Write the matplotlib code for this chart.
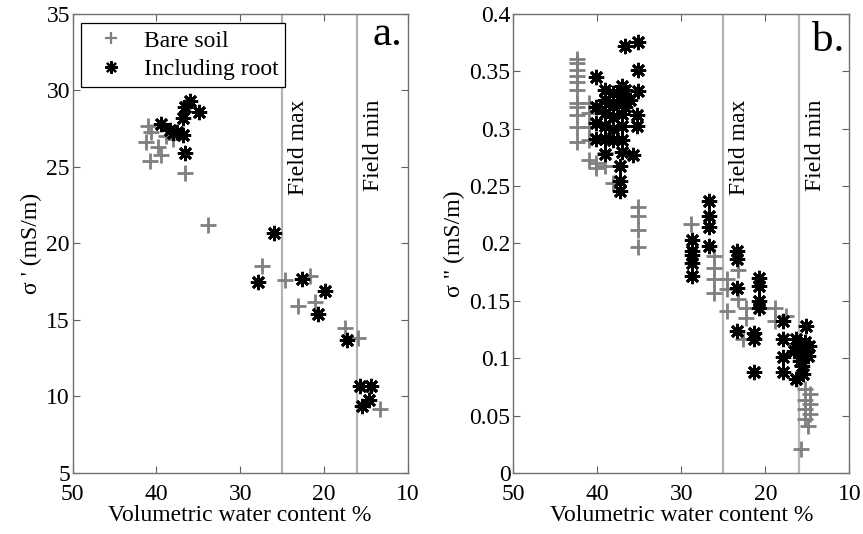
import matplotlib
matplotlib.use('Agg')
import matplotlib.pyplot as plt
import matplotlib.transforms as mtransforms

plt.rcParams['font.family'] = ['Liberation Serif', 'DejaVu Serif']

# Panel a: sigma' (mS/m)
bare_a_x = [41.0, 40.6, 41.2, 40.8, 39.8, 39.4, 38.8, 38.0, 36.6, 33.8, 27.4, 24.6,
            21.7, 23.1, 21.1, 17.5, 15.9, 14.6, 13.3]
bare_a_y = [27.7, 27.3, 26.6, 25.4, 26.3, 25.8, 27.0, 26.8, 24.6, 21.2, 18.5, 17.6,
            17.9, 15.9, 16.2, 14.5, 13.8, 10.4, 9.2]
root_a_x = [39.4, 38.4, 38.0, 37.5, 36.8, 36.6, 36.0, 34.9, 36.8, 36.6, 26.0, 27.9,
            22.6, 19.9, 20.7, 17.2, 15.7, 14.4, 15.5, 14.6]
root_a_y = [27.8, 27.4, 27.2, 27.3, 28.2, 28.9, 29.3, 28.6, 27.1, 25.9, 20.7, 17.5,
            17.7, 16.9, 15.4, 13.7, 10.7, 10.7, 9.4, 9.8]

# Panel b: sigma'' (mS/m)
bare_b_x = [42.4, 42.4, 42.4, 42.4, 42.4, 42.4, 42.4, 42.4, 42.4, 42.4, 42.4,
            41.0, 41.0, 41.0, 41.0, 41.0, 40.1, 40.1, 39.1, 39.1, 38.1,
            35.1, 35.1, 35.1, 35.1, 28.8, 26.1, 26.1, 26.1, 26.1,
            24.6, 24.6, 24.6, 23.2, 23.2, 22.3, 22.3, 22.6, 18.9, 18.9, 17.5, 15.7,
            15.3, 14.7, 15.3, 14.7, 15.3, 14.7, 15.3, 14.9]
bare_b_y = [0.361, 0.357, 0.351, 0.346, 0.341, 0.334, 0.322, 0.319, 0.312, 0.301, 0.288,
            0.322, 0.314, 0.301, 0.290, 0.273, 0.270, 0.266, 0.279, 0.267, 0.253,
            0.232, 0.224, 0.212, 0.197, 0.217, 0.189, 0.179, 0.169, 0.157,
            0.169, 0.160, 0.141, 0.177, 0.152, 0.144, 0.135, 0.117, 0.144, 0.132, 0.137, 0.021,
            0.073, 0.069, 0.064, 0.060, 0.056, 0.051, 0.047, 0.041]
root_b_x = [36.7, 35.1, 35.1, 35.1, 35.3, 35.3, 35.7,
            40.1, 40.1, 40.1, 40.1,
            39.1, 39.1, 39.1, 39.1, 39.1, 39.1,
            38.1, 38.1, 38.1, 38.1, 38.1,
            37.1, 37.1, 37.1, 37.1, 37.1, 37.1,
            37.3, 37.3, 37.3, 36.7, 36.7, 36.1,
            28.7, 28.7, 28.7, 28.7, 28.7,
            26.7, 26.7, 26.7, 26.7,
            23.4, 23.4, 23.4, 23.4,
            20.7, 20.7, 20.7, 20.7,
            21.3, 21.3, 21.3,
            17.9, 17.9, 17.9, 17.9,
            15.2, 16.3, 15.3, 14.9, 16.3, 15.5, 16.6, 15.9, 15.2, 14.8, 16.0, 15.6]
root_b_y = [0.372, 0.375, 0.351, 0.333, 0.312, 0.302, 0.277,
            0.345, 0.319, 0.305, 0.291,
            0.334, 0.325, 0.314, 0.302, 0.291, 0.278,
            0.331, 0.320, 0.310, 0.300, 0.290,
            0.337, 0.325, 0.313, 0.302, 0.290, 0.280,
            0.267, 0.254, 0.246, 0.334, 0.319, 0.325,
            0.203, 0.193, 0.190, 0.183, 0.172,
            0.237, 0.224, 0.214, 0.198,
            0.193, 0.186, 0.161, 0.124,
            0.170, 0.163, 0.150, 0.144,
            0.122, 0.117, 0.088,
            0.132, 0.117, 0.101, 0.088,
            0.128, 0.117, 0.114, 0.102, 0.082, 0.086, 0.106, 0.098, 0.105, 0.111, 0.110, 0.093]

field_max = 25
field_min = 16
xticks = [50, 40, 30, 20, 10]

gris = '#808080'
asterisco = (8, 2, 0)

fig = plt.figure(figsize=(8.63, 5.34), dpi=100)
ax_a = fig.add_axes([0.0842, 0.1142, 0.3882, 0.8600])
ax_b = fig.add_axes([0.5948, 0.1142, 0.3893, 0.8600])


def preparar(ax, ylim, yticks, ylabel, etiqueta, ybase):
    ax.set_xlim(50, 10)
    ax.set_ylim(*ylim)
    ax.set_xticks(xticks)
    ax.set_yticks(yticks)
    ax.set_yticklabels([('%g' % v) for v in yticks])
    ax.tick_params(direction='in', top=True, right=True, length=5, width=0.8,
                   color='#606060', labelsize=17)
    ax.tick_params(axis='x', pad=8)
    ax.tick_params(axis='y', pad=2)
    for sp in ax.spines.values():
        sp.set_color('#707070')
        sp.set_linewidth(1.0)
    ax.set_xlabel('Volumetric water content %', fontsize=17, labelpad=0)
    ax.set_ylabel(ylabel, fontsize=17, labelpad=3)
    for xv in (field_max, field_min):
        ax.axvline(xv, color='#b4b4b4', linewidth=1.6, zorder=1)
    trans = mtransforms.blended_transform_factory(ax.transData, ax.transAxes)
    ax.text(field_max - 0.7, 0.813, 'Field max', rotation=90, ha='left', va='top',
            fontsize=17, transform=trans)
    ax.text(field_min - 0.7, 0.813, 'Field min', rotation=90, ha='left', va='top',
            fontsize=17, transform=trans)
    ax.text(0.985, ybase, etiqueta, ha='right', va='baseline', fontsize=31,
            transform=ax.transAxes)


preparar(ax_a, (5, 35), [5, 10, 15, 20, 25, 30, 35], "σ ' (mS/m)", 'a.', 0.933)
preparar(ax_b, (0, 0.4), [0, 0.05, 0.1, 0.15, 0.2, 0.25, 0.3, 0.35, 0.4],
         'σ " (mS/m)', 'b.', 0.918)

ax_a.plot(bare_a_x, bare_a_y, linestyle='none', marker='+', markersize=11,
          markeredgewidth=2, color=gris, label='Bare soil', zorder=3)
ax_a.plot(root_a_x, root_a_y, linestyle='none', marker=asterisco, markersize=11,
          markeredgewidth=2.0, color='black', label='Including root', zorder=4)

ax_b.plot(bare_b_x, bare_b_y, linestyle='none', marker='+', markersize=11,
          markeredgewidth=2, color=gris, zorder=3)
ax_b.plot(root_b_x, root_b_y, linestyle='none', marker=asterisco, markersize=11,
          markeredgewidth=2.0, color='black', zorder=4)

leg = ax_a.legend(loc='upper left', bbox_to_anchor=(0.025, 0.98), fontsize=17,
                  frameon=True, fancybox=False, edgecolor='black', framealpha=1,
                  handlelength=1.9, handletextpad=0.45, borderpad=0.3,
                  labelspacing=0.3, borderaxespad=0)
leg.get_frame().set_linewidth(0.9)
for h in leg.legend_handles:
    h.set_markersize(9)
    h.set_markeredgewidth(1.6)

fig.savefig('out.png', dpi=100)
